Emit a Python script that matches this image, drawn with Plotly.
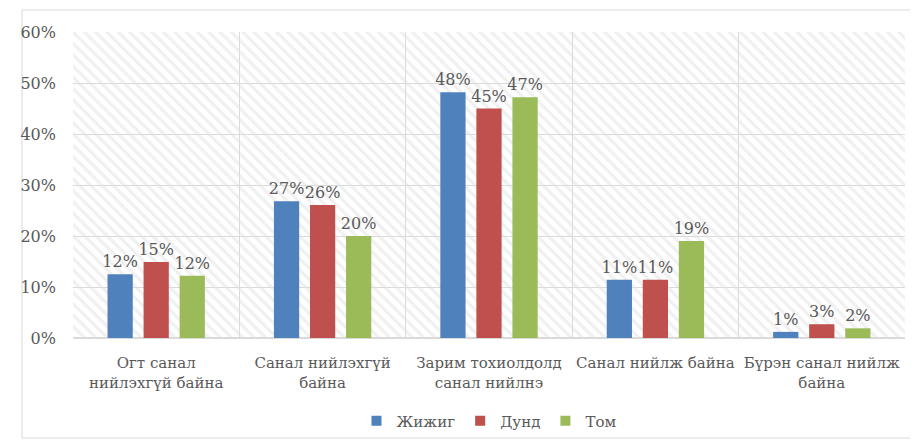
import plotly.graph_objects as go

categories = ["Огт санал<br>нийлэхгүй байна", "Санал нийлэхгүй<br>байна",
              "Зарим тохиолдолд<br>санал нийлнэ", "Санал нийлж байна",
              "Бүрэн санал нийлж<br>байна"]
series_names = ["Жижиг", "Дунд", "Том"]
small = [0.125, 0.268, 0.482, 0.114, 0.012]
medium = [0.149, 0.261, 0.450, 0.114, 0.027]
large = [0.122, 0.200, 0.472, 0.190, 0.019]
labels_small = ["12%", "27%", "48%", "11%", "1%"]
labels_medium = ["15%", "26%", "45%", "11%", "3%"]
labels_large = ["12%", "20%", "47%", "19%", "2%"]
tick_vals = [0, 0.1, 0.2, 0.3, 0.4, 0.5, 0.6]
tick_text = ["0%", "10%", "20%", "30%", "40%", "50%", "60%"]

colors = ["#4F81BD", "#C0504D", "#9BBB59"]
FONT = "DejaVu Serif"
GRAY = "#595959"
GRID = "#d9d9d9"

fig = go.Figure()

# hatched plot-area background on the main (linear) x axis
fig.add_trace(go.Bar(
    x=[2.5], y=[0.6], width=[5], xaxis="x", showlegend=False, hoverinfo="skip",
    marker=dict(color="rgba(0,0,0,0)", line=dict(width=0),
                pattern=dict(shape="\\", size=8, solidity=0.4,
                             fgcolor="#e2e2e2", bgcolor="rgba(0,0,0,0)",
                             fillmode="overlay")),
))

for name, vals, labs, c in zip(series_names, [small, medium, large],
                               [labels_small, labels_medium, labels_large], colors):
    fig.add_trace(go.Bar(
        x=categories, y=vals, name=name, xaxis="x2", showlegend=False,
        marker=dict(color=c, line=dict(width=0)),
        text=labs, textposition="outside", cliponaxis=False, constraintext="none",
        textangle=0, textfont=dict(family=FONT, size=16, color=GRAY),
    ))

# legend entries (small squares)
for name, c in zip(series_names, colors):
    fig.add_trace(go.Scatter(
        x=[None], y=[None], xaxis="x2", mode="markers", name=name,
        marker=dict(symbol="square", size=10, color=c),
    ))

fig.update_layout(
    width=910, height=436,
    margin=dict(l=65, r=13, t=24, b=106),
    paper_bgcolor="white", plot_bgcolor="white",
    barmode="group", bargap=0.35, bargroupgap=0.3,
    font=dict(family=FONT, color=GRAY, size=15),
    xaxis=dict(range=[0, 5], showgrid=True, gridcolor=GRID, gridwidth=1,
               dtick=1, tick0=0, showticklabels=False, zeroline=False, ticks="",
               showline=False, fixedrange=True),
    xaxis2=dict(overlaying="x", side="bottom", showgrid=False, showline=False, ticks="",
                ticklabelstandoff=14, automargin=False,
                tickfont=dict(size=15, family=FONT, color=GRAY)),
    yaxis=dict(range=[0, 0.6], tickvals=tick_vals, ticktext=tick_text, showgrid=True,
               gridcolor=GRID, gridwidth=1, zeroline=True, zerolinecolor=GRID,
               ticklabelstandoff=16, tickfont=dict(size=16, family=FONT, color=GRAY)),
    legend=dict(orientation="h", x=0.5, xanchor="center", yref="container",
                y=0.053, yanchor="middle",
                font=dict(size=15, family=FONT, color=GRAY), itemwidth=30,
                traceorder="normal", bgcolor="rgba(0,0,0,0)"),
    shapes=[dict(type="rect", xref="paper", yref="paper", x0=-0.0613, x1=1.0084,
                 y0=-0.327, y1=1.072, line=dict(color=GRID, width=1), layer="below")],
)

fig.write_html("out.html")
